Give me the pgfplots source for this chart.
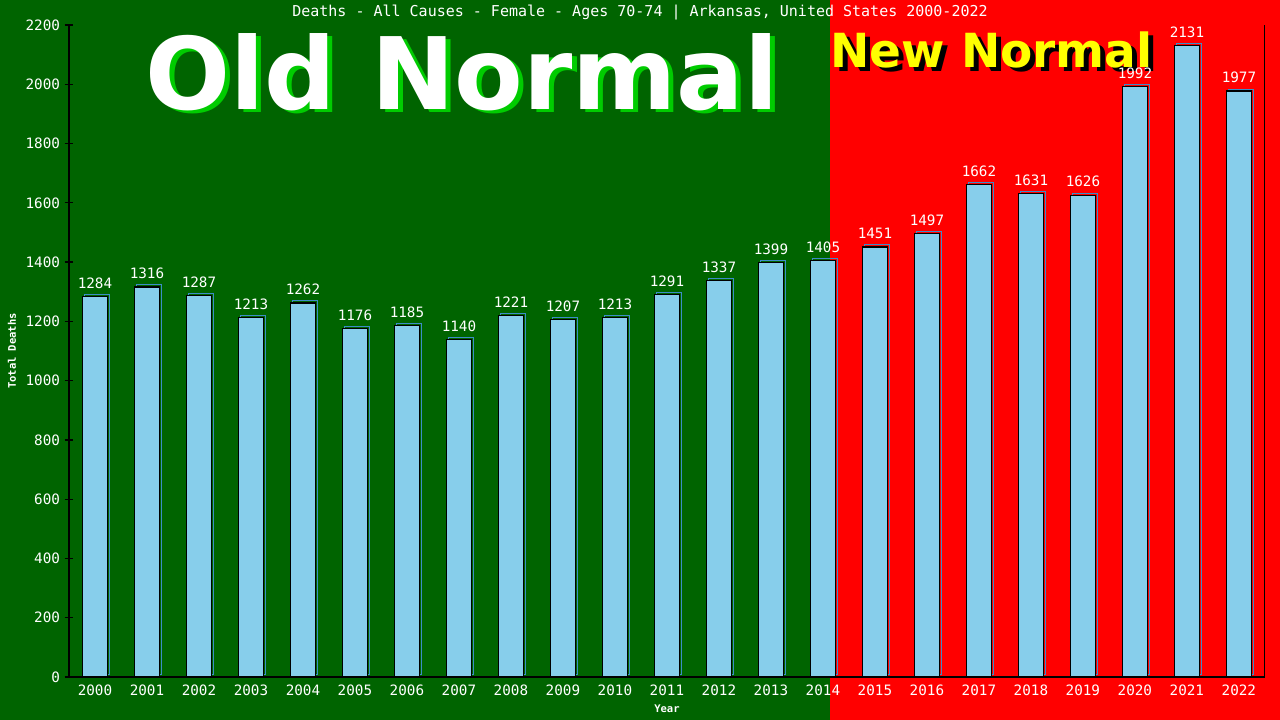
\documentclass[border=0pt]{standalone}
\usepackage{pgfplots}
\pgfplotsset{compat=1.18}
\usepackage{fontspec}
\setmainfont{DejaVu Sans Mono}
\newfontfamily\heavy{DejaVu Sans}
\definecolor{bggreen}{RGB}{0,100,0}
\definecolor{bgred}{RGB}{255,0,0}
\definecolor{barblue}{RGB}{135,206,235}
\definecolor{barshadow}{RGB}{60,140,200}
\definecolor{shadowgreen}{RGB}{0,204,0}
\definecolor{newyellow}{RGB}{255,255,0}

\begin{document}
\begin{tikzpicture}[x=1pt,y=1pt]
\path[use as bounding box] (0,0) rectangle (1280,720);
\fill[bggreen] (0,0) rectangle (1280,720);
\fill[bgred] (830,0) rectangle (1280,720);

% banner texts
\node[anchor=base, text=shadowgreen, font=\heavy\bfseries\fontsize{100}{100}\selectfont] at (467,607) {Old Normal};
\node[anchor=base, text=white, font=\heavy\bfseries\fontsize{100}{100}\selectfont] at (462,610) {Old Normal};
\node[anchor=base west, inner sep=0pt, text=black, font=\heavy\bfseries\fontsize{47}{47}\selectfont] at (835,648) {New Normal};
\node[anchor=base west, inner sep=0pt, text=newyellow, font=\heavy\bfseries\fontsize{47}{47}\selectfont] at (830,652) {New Normal};

\node[text=white, font=\fontsize{15}{16}\selectfont] at (640,707)
  {Deaths - All Causes - Female - Ages 70-74 | Arkansas, United States 2000-2022};

\begin{axis}[
  at={(69pt,43pt)}, anchor=south west,
  scale only axis, width=1196pt, height=652pt,
  xmin=1999.5, xmax=2022.5, ymin=0, ymax=2200,
  ybar, bar width=25pt, bar shift=0pt,
  xtick={2000,...,2022}, ytick={0,200,...,2200},
  axis x line*=bottom, axis y line*=left,
  axis line style={black, line width=1.2pt, -},
  tick align=center, major tick length=9pt,
  every tick/.style={black, line width=1.2pt},
  xtick style={/pgfplots/major tick length=0pt},
  ticklabel style={text=white, font=\fontsize{14.3}{15}\selectfont},
  yticklabel style={xshift=-1pt},
  /pgf/number format/1000 sep={},
  /pgf/number format/assume math mode=true,
  xlabel=Year, ylabel=Total Deaths,
  label style={text=white, font=\bfseries\fontsize{10.5}{11}\selectfont},
  xlabel style={at={(axis description cs:0.5,0)}, anchor=center, yshift=-32pt},
  ylabel style={at={(axis description cs:-0.0477,0.5)}, anchor=center},
  nodes near coords style={text=white, font=\fontsize{14.3}{15}\selectfont, yshift=4pt},
]
% shadow outline
\addplot[draw=barshadow, line width=1pt, fill=none, xshift=2pt, yshift=2pt, forget plot] coordinates {
(2000,1284) (2001,1316) (2002,1287) (2003,1213) (2004,1262) (2005,1176)
(2006,1185) (2007,1140) (2008,1221) (2009,1207) (2010,1213) (2011,1291)
(2012,1337) (2013,1399) (2014,1405) (2015,1451) (2016,1497) (2017,1662)
(2018,1631) (2019,1626) (2020,1992) (2021,2131) (2022,1977)
};
% deaths
\addplot[fill=barblue, draw=black, line width=1.2pt, nodes near coords] coordinates {
(2000,1284) (2001,1316) (2002,1287) (2003,1213) (2004,1262) (2005,1176)
(2006,1185) (2007,1140) (2008,1221) (2009,1207) (2010,1213) (2011,1291)
(2012,1337) (2013,1399) (2014,1405) (2015,1451) (2016,1497) (2017,1662)
(2018,1631) (2019,1626) (2020,1992) (2021,2131) (2022,1977)
};
\draw[black, line width=1.2pt] (rel axis cs:1,0) -- (rel axis cs:1,1);
\end{axis}
\end{tikzpicture}
\end{document}
